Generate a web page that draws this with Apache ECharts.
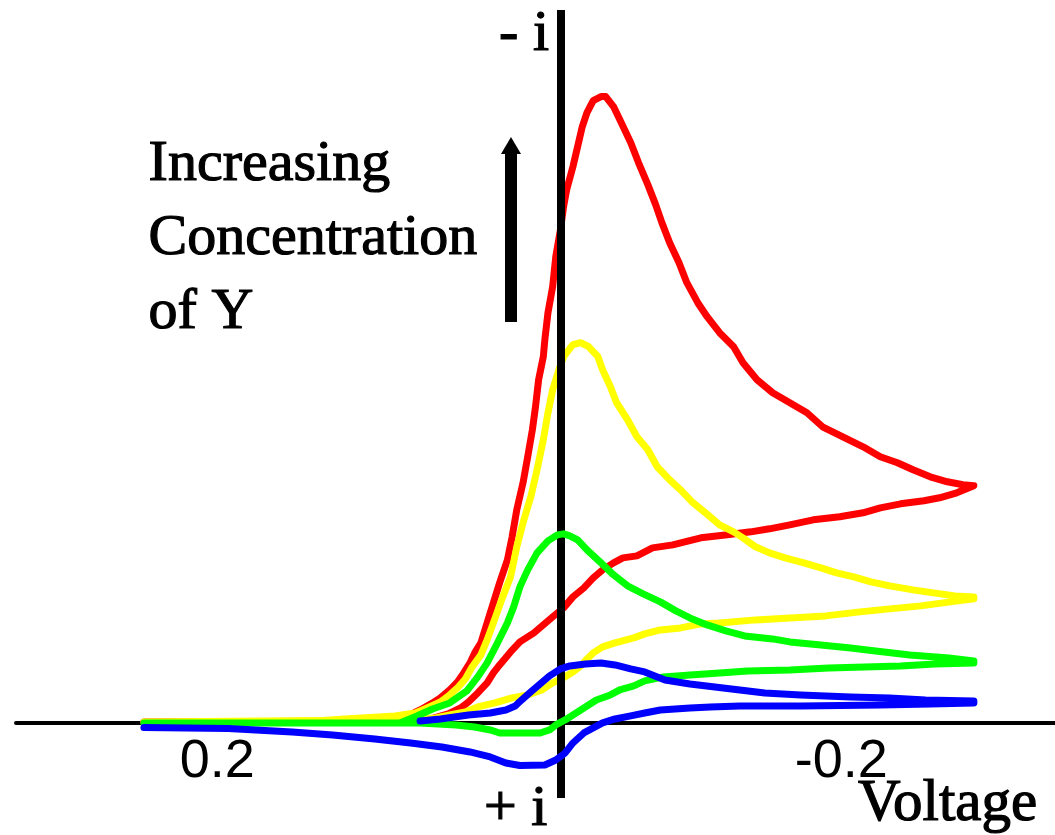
<!DOCTYPE html>
<html>
<head>
<meta charset="utf-8">
<script src="https://cdn.jsdelivr.net/npm/echarts@6/dist/echarts.min.js"></script>
<style>
html,body{margin:0;padding:0;background:#fff;}
#chart{width:1055px;height:835px;}
</style>
</head>
<body>
<div id="chart"></div>
<script>
// Voltage (V) vs current (arbitrary units, cathodic "-i" upward)
const tickValues = [0.2, -0.2];
const tickLabels = ['0.2', '-0.2'];
const iAxisVoltage = -0.02;

const redForward = [
[0.247,0.1],[0.147,0.1],[0.096,0.2],[0.083,0.3],[0.070,1.3],[0.063,1.9],[0.057,2.5],[0.051,3.3],[0.046,4.1],[0.042,5.0],[0.038,6.0],[0.035,7.0],[0.031,8.0],[0.027,10.0],[0.023,12.0],[0.019,14.0],[0.014,16.3],[0.011,18.6],[0.008,21.3],[0.004,24.0],[0.001,26.6],[-0.002,29.3],[-0.004,31.6],[-0.006,34.3],[-0.009,36.6],[-0.010,38.3],[-0.012,41.0],[-0.015,43.6],[-0.017,46.6],[-0.020,49.3],[-0.022,51.6],[-0.024,53.3],[-0.028,55.6],[-0.031,57.6],[-0.034,59.6],[-0.037,61.0],[-0.041,62.2],[-0.046,62.6],[-0.049,62.6],[-0.054,61.6],[-0.058,60.3],[-0.065,58.0],[-0.070,56.0],[-0.076,53.8],[-0.081,51.8],[-0.085,50.0],[-0.090,48.0],[-0.096,46.0],[-0.101,44.0],[-0.108,42.0],[-0.114,40.6],[-0.122,39.0],[-0.131,37.6],[-0.137,36.0],[-0.146,34.3],[-0.156,33.0],[-0.167,32.0],[-0.178,31.0],[-0.188,29.6],[-0.201,28.6],[-0.214,27.6],[-0.225,26.6],[-0.236,26.0],[-0.246,25.3],[-0.257,24.6],[-0.268,24.1],[-0.278,23.8],[-0.285,23.7]
];
const redReverse = [
[-0.285,23.6],[-0.274,23.0],[-0.263,22.5],[-0.253,22.2],[-0.238,21.9],[-0.225,21.5],[-0.214,21.0],[-0.199,20.6],[-0.182,20.3],[-0.176,20.1],[-0.167,19.8],[-0.154,19.4],[-0.142,19.1],[-0.127,18.8],[-0.110,18.5],[-0.092,17.8],[-0.079,17.5],[-0.069,16.7],[-0.060,16.5],[-0.054,16.0],[-0.047,15.3],[-0.041,14.5],[-0.035,13.5],[-0.028,12.6],[-0.022,11.5],[-0.015,10.6],[-0.009,9.8],[-0.003,9.0],[0.006,8.1],[0.012,7.1],[0.019,5.8],[0.023,5.0],[0.027,4.0],[0.033,3.0],[0.039,2.1],[0.044,1.5],[0.052,0.9],[0.063,0.4],[0.083,0.2],[0.247,0.1]
];
const yellowForward = [
[0.247,0.1],[0.147,0.1],[0.118,0.4],[0.086,0.7],[0.073,1.0],[0.067,1.4],[0.057,2.1],[0.051,2.8],[0.046,3.5],[0.041,4.4],[0.037,5.5],[0.031,6.8],[0.027,8.3],[0.023,10.0],[0.017,12.6],[0.012,14.6],[0.008,17.6],[0.004,20.0],[-0.001,22.6],[-0.005,25.3],[-0.009,28.3],[-0.012,31.0],[-0.015,33.3],[-0.019,35.3],[-0.022,36.6],[-0.028,37.8],[-0.033,38.0],[-0.038,37.6],[-0.044,36.6],[-0.047,35.3],[-0.052,33.6],[-0.056,32.0],[-0.063,30.3],[-0.069,28.6],[-0.076,27.3],[-0.082,25.6],[-0.090,24.3],[-0.097,23.3],[-0.105,22.0],[-0.116,20.6],[-0.122,19.8],[-0.131,19.1],[-0.137,18.5],[-0.145,17.6],[-0.154,17.0],[-0.164,16.5],[-0.176,16.0],[-0.187,15.5],[-0.197,15.0],[-0.208,14.6],[-0.219,14.1],[-0.231,13.7],[-0.246,13.3],[-0.259,13.0],[-0.273,12.7],[-0.285,12.6]
];
const yellowReverse = [
[-0.285,12.4],[-0.270,12.1],[-0.251,11.7],[-0.231,11.4],[-0.212,11.1],[-0.190,10.7],[-0.167,10.5],[-0.145,10.3],[-0.122,10.0],[-0.110,9.9],[-0.097,9.5],[-0.084,9.3],[-0.074,8.9],[-0.067,8.5],[-0.055,8.0],[-0.047,7.6],[-0.041,7.0],[-0.037,6.4],[-0.033,5.7],[-0.028,5.1],[-0.023,4.6],[-0.015,4.0],[-0.008,3.3],[0.001,2.8],[0.011,2.5],[0.022,2.0],[0.033,1.6],[0.041,1.1],[0.051,0.8],[0.060,0.5],[0.095,0.3],[0.247,0.1]
];
const greenForward = [
[0.247,0.0],[0.083,0.0],[0.072,0.7],[0.062,1.4],[0.051,2.0],[0.040,3.2],[0.033,4.6],[0.027,6.0],[0.021,7.8],[0.014,10.0],[0.010,11.6],[0.006,13.6],[0.001,15.3],[-0.005,17.0],[-0.012,18.2],[-0.018,18.8],[-0.022,18.9],[-0.026,18.7],[-0.031,18.3],[-0.037,17.3],[-0.046,16.0],[-0.054,14.8],[-0.063,13.7],[-0.073,12.9],[-0.084,12.1],[-0.094,11.2],[-0.103,10.5],[-0.114,9.8],[-0.126,9.2],[-0.138,8.7],[-0.156,8.4],[-0.167,8.1],[-0.187,7.8],[-0.206,7.5],[-0.222,7.2],[-0.244,6.8],[-0.269,6.5],[-0.285,6.2]
];
const greenReverse = [
[-0.285,6.0],[-0.260,5.9],[-0.238,5.7],[-0.215,5.6],[-0.192,5.5],[-0.167,5.3],[-0.140,5.2],[-0.122,5.0],[-0.103,4.8],[-0.086,4.6],[-0.074,4.2],[-0.067,3.7],[-0.058,3.3],[-0.052,2.8],[-0.043,2.3],[-0.038,1.8],[-0.033,1.3],[-0.028,0.8],[-0.023,0.3],[-0.017,-0.2],[-0.013,-0.7],[-0.007,-1.0],[0.019,-1.0],[0.025,-0.7],[0.035,-0.4],[0.047,-0.2],[0.070,0.0],[0.247,0.0]
];
const blueForward = [
[0.070,0.2],[0.057,0.4],[0.039,0.8],[0.025,1.0],[0.015,1.3],[0.009,1.7],[0.007,2.0],[-0.001,3.1],[-0.007,3.9],[-0.013,4.7],[-0.020,5.4],[-0.026,5.7],[-0.036,5.9],[-0.046,6.0],[-0.055,5.8],[-0.065,5.4],[-0.074,5.1],[-0.087,4.3],[-0.103,3.9],[-0.119,3.6],[-0.135,3.3],[-0.151,3.0],[-0.174,2.8],[-0.206,2.6],[-0.231,2.5],[-0.254,2.3],[-0.285,2.2]
];
const blueReverse = [
[-0.285,2.0],[-0.257,1.9],[-0.225,1.8],[-0.174,1.7],[-0.135,1.7],[-0.116,1.6],[-0.103,1.5],[-0.084,1.3],[-0.074,1.0],[-0.065,0.7],[-0.055,0.4],[-0.047,0.0],[-0.041,-0.5],[-0.035,-1.0],[-0.028,-2.0],[-0.023,-3.0],[-0.017,-3.7],[-0.010,-4.2],[0.006,-4.25],[0.015,-4.0],[0.025,-3.4],[0.038,-2.9],[0.056,-2.4],[0.076,-2.0],[0.099,-1.6],[0.126,-1.2],[0.152,-0.9],[0.193,-0.55],[0.247,-0.45]
];

const curves = [
  {name:'red', color:'#ff0000', fwd:redForward, rev:redReverse},
  {name:'yellow', color:'#ffff00', fwd:yellowForward, rev:yellowReverse},
  {name:'green', color:'#00ff00', fwd:greenForward, rev:greenReverse},
  {name:'blue', color:'#0000ff', fwd:blueForward, rev:blueReverse}
];

const chart = echarts.init(document.getElementById('chart'), null, {renderer:'canvas'});

const series = [{
  type:'line', name:'iAxis', data:[], z:1, silent:true,
  markLine:{
    silent:true, symbol:['none','none'], label:{show:false},
    lineStyle:{color:'#000', width:8, type:'solid'},
    emphasis:{disabled:true},
    data:[{xAxis:iAxisVoltage}]
  }
}];
curves.forEach((c, k) => {
  series.push({
    type:'line', name:c.name, data:c.fwd.concat(c.rev), z:3 + k,
    showSymbol:false, symbol:'none', smooth:false, silent:true,
    lineStyle:{color:c.color, width:7, cap:'round', join:'round'},
    itemStyle:{color:c.color}
  });
});

const serif = '"Liberation Serif", "Times New Roman", serif';
const txt = (extra) => Object.assign({fontFamily:serif, fontSize:58, fill:'#000', stroke:'#000', lineWidth:1.2}, extra);

chart.setOption({
  animation:false,
  backgroundColor:'#fff',
  grid:{left:16, right:0, top:10, bottom:37, containLabel:false, outerBoundsMode:'none'},
  xAxis:{
    type:'value', inverse:true, min:-0.337, max:0.329,
    axisLine:{show:true, onZero:true, lineStyle:{color:'#000', width:4}},
    axisTick:{show:false}, splitLine:{show:false},
    axisLabel:{
      customValues:tickValues,
      formatter:(v) => {
        let idx = 0, best = Infinity;
        tickValues.forEach((t, j) => { const d = Math.abs(t - v); if (d < best) { best = d; idx = j; } });
        return tickLabels[idx];
      },
      fontFamily:'"Liberation Sans", Arial, sans-serif', fontSize:54, color:'#000', margin:-63
    }
  },
  yAxis:{type:'value', min:-7.5, max:71.25, show:false, splitLine:{show:false}},
  series:series,
  graphic:[
    {type:'text', left:148, top:128, silent:true,
     style:txt({text:'Increasing\nConcentration\nof Y', lineHeight:74})},
    {type:'rect', silent:true, shape:{x:505, y:150, width:12, height:172}, style:{fill:'#000'}},
    {type:'polygon', silent:true, shape:{points:[[511,137],[521,154],[501,154]]}, style:{fill:'#000'}},
    {type:'text', x:549, y:35, silent:true,
     style:txt({text:'- i', align:'right', verticalAlign:'middle', textAlign:'right', textVerticalAlign:'middle'})},
    {type:'text', x:484, y:810, silent:true,
     style:txt({text:'+ i', align:'left', verticalAlign:'middle', textAlign:'left', textVerticalAlign:'middle'})},
    {type:'text', x:858, y:804, silent:true,
     style:txt({text:'Voltage', fontSize:59, align:'left', verticalAlign:'middle', textAlign:'left', textVerticalAlign:'middle'})}
  ]
});
</script>
</body>
</html>
